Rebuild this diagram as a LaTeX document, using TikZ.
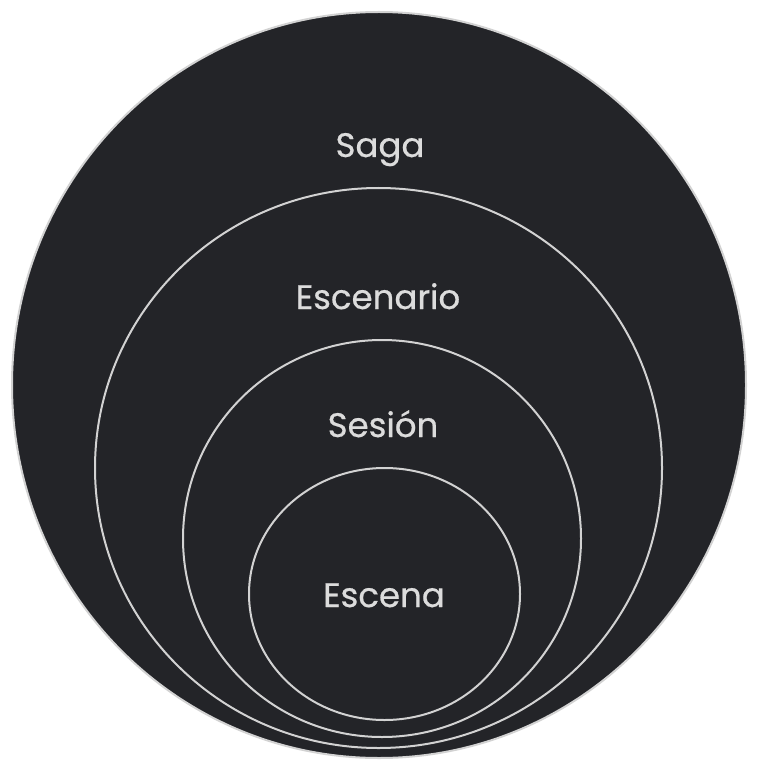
\documentclass[tikz,border=0pt]{standalone}
\usepackage{fontspec}
\setmainfont{Poppins}[FakeBold=0.6]
\usetikzlibrary{shapes.geometric}
\definecolor{fillc}{HTML}{232428}
\definecolor{strokec}{HTML}{D2D2D2}
\definecolor{textc}{HTML}{DCDCDC}
\tikzset{
  ring/.style={ellipse, draw=strokec, fill=fillc, line width=2pt, inner sep=0pt},
  lbl/.style={text=textc, font=\fontsize{34}{40}\selectfont, inner sep=0pt, anchor=base}
}
\begin{document}
\begin{tikzpicture}[x=1pt,y=-1pt]
\useasboundingbox (0,0) rectangle (757,767);
\node[ring, minimum width=734pt, minimum height=746pt] (saga) at (379,385) {};
\node[ring, minimum width=567pt, minimum height=560pt] (escenario) at (378.5,468) {};
\node[ring, minimum width=398pt, minimum height=397pt] (sesion) at (382,538.5) {};
\node[ring, minimum width=271pt, minimum height=252pt] (escena) at (384.5,594) {};
\node[lbl] (tsaga) at (380,157) {Saga};
\node[lbl] (tescenario) at (378,309) {Escenario};
\node[lbl] (tsesion) at (383,437) {Sesión};
\node[lbl] (tescena) at (384,607) {Escena};
\end{tikzpicture}
\end{document}
